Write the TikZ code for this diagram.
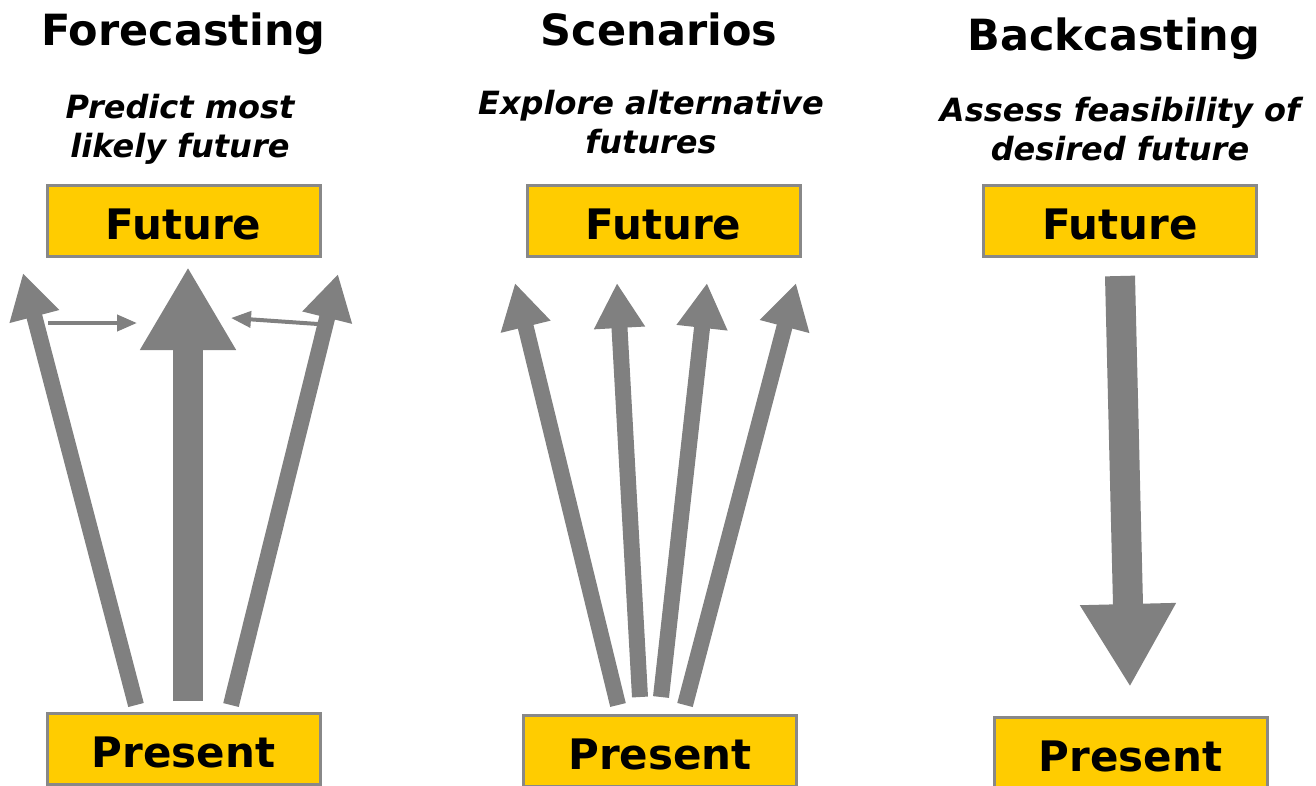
\documentclass[tikz,border=0pt]{standalone}
\usepackage{fontspec}
\setmainfont{DejaVu Sans}
\usepackage{xcolor}
\usetikzlibrary{arrows.meta,positioning}

\definecolor{boxyellow}{RGB}{255,204,0}
\definecolor{boxgray}{RGB}{136,136,136}
\definecolor{arrowgray}{RGB}{128,128,128}

\tikzset{
  stage/.style={draw=boxgray, line width=3pt, fill=boxyellow, minimum width=273pt, minimum height=71pt, inner sep=0pt, text height=38pt, text depth=0pt, font=\bfseries\fontsize{42}{50}\selectfont},
  heading/.style={font=\bfseries\fontsize{43}{50}\selectfont, inner sep=0pt, anchor=base},
  aim/.style={font=\bfseries\itshape\fontsize{32}{39}\selectfont, align=center, inner sep=0pt, anchor=north},
  bigtrend/.style={draw=arrowgray, line width=30pt, -{Triangle[length=83pt 0 0, width=90pt 0 0]}},
  trend/.style={draw=arrowgray, line width=16pt, -{Triangle[length=45pt 0 0, width=48pt 0 0]}},
  nudge/.style={draw=arrowgray, line width=4pt, -{Triangle[length=20pt 0 0, width=16pt 0 0]}}
}

\begin{document}
\begin{tikzpicture}[x=1pt,y=-1pt]
\useasboundingbox (0,0) rectangle (1316,785);
\clip (0,0) rectangle (1316,785);

% Forecasting
\node[heading] (fhead) at (183.5,45) {Forecasting};
\node[aim] (faim) at (180,94) {Predict most\\likely future};
\node[stage] (ffut) at (183.5,220.5) {Future};
\node[stage] (fpre) at (183.5,748.5) {Present};
\coordinate (fa0) at (136,705); \coordinate (fa1) at (23,273);
\coordinate (fb0) at (188,701); \coordinate (fb1) at (188,267);
\coordinate (fc0) at (231,705); \coordinate (fc1) at (338,274);
\coordinate (fd0) at (48,323);  \coordinate (fd1) at (137,323);
\coordinate (fe0) at (318,324); \coordinate (fe1) at (231,318);
\draw[trend] (fa0) -- (fa1);
\draw[bigtrend] (fb0) -- (fb1);
\draw[trend] (fc0) -- (fc1);
\draw[nudge] (fd0) -- (fd1);
\draw[nudge] (fe0) -- (fe1);

% Scenarios
\node[heading] (shead) at (659,45) {Scenarios};
\node[aim] (saim) at (651,90) {Explore alternative\\futures};
\node[stage] (sfut) at (663.5,220.5) {Future};
\node[stage] (spre) at (660,750.5) {Present};
\coordinate (sa0) at (618,705); \coordinate (sa1) at (515,283);
\coordinate (sb0) at (640,697); \coordinate (sb1) at (617,283);
\coordinate (sc0) at (661,697); \coordinate (sc1) at (707,283);
\coordinate (sd0) at (685,705); \coordinate (sd1) at (796,283);
\foreach \k in {a,b,c,d}
  \draw[trend] (s\k0) -- (s\k1);

% Backcasting
\node[heading] (bhead) at (1114,50) {Backcasting};
\node[aim] (baim) at (1120,97) {Assess feasibility of\\desired future};
\node[stage] (bfut) at (1120,220.5) {Future};
\node[stage] (bpre) at (1130.5,752.5) {Present};
\coordinate (ba0) at (1120,276); \coordinate (ba1) at (1130,687);
\draw[bigtrend] (ba0) -- (ba1);
\end{tikzpicture}
\end{document}
